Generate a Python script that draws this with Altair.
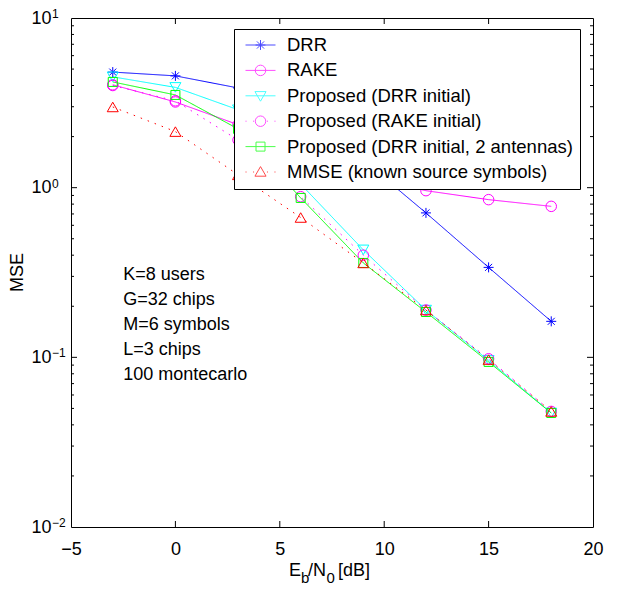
import altair as alt
import pandas as pd

# ---------------- data ----------------
snr = [-3, 0, 3, 6, 9, 12, 15, 18]
drr = [4.8, 4.56, 3.87, 2.6, 1.45, 0.71, 0.339, 0.163]
rake = [4.04, 3.2, 2.35, 1.6, 1.16, 0.96, 0.85, 0.776]
prop_drr = [4.5, 3.9, 2.88, 1.05, 0.43, 0.19, 0.096, 0.047]
prop_rake = [4.0, 3.25, 1.91, 0.885, 0.40, 0.19, 0.098, 0.048]
prop_drr_2ant = [4.2, 3.52, 2.22, 0.87, 0.36, 0.185, 0.094, 0.047]
mmse = [2.99, 2.14, 1.19, 0.667, 0.36, 0.19, 0.097, 0.048]

series_names = [
    "DRR",
    "RAKE",
    "Proposed (DRR initial)",
    "Proposed (RAKE initial)",
    "Proposed (DRR initial, 2 antennas)",
    "MMSE (known source symbols)",
]
series_values = [drr, rake, prop_drr, prop_rake, prop_drr_2ant, mmse]

x_tick_labels = [-5, 0, 5, 10, 15, 20]
x_inner_ticks = [0, 5, 10, 15]
y_decades = [0.01, 0.1, 1, 10]
y_exponents = ["\u22122", "\u22121", "0", "1"]
y_major_inner = [0.1, 1]
y_minor = [m * d for d in [0.01, 0.1, 1] for m in range(2, 10)]

annotation_lines = ["K=8 users", "G=32 chips", "M=6 symbols", "L=3 chips", "100 montecarlo"]

# ---------------- styles ----------------
FONT = "Liberation Sans"
W, H = 522, 509
colors = ["#0000ff", "#ff00ff", "#00ffff", "#ff00ff", "#00ff00", "#ff0000"]
dashes = [[1, 0], [1, 0], [1, 0], [1.5, 6], [1, 0], [1.5, 6]]
asterisk = "M-1,0L1,0M0,-1L0,1M-0.7,-0.7L0.7,0.7M-0.7,0.7L0.7,-0.7"
point_shapes = [asterisk, "circle", "triangle-down", "circle", "square", "triangle-up"]
point_sizes = [100, 110, 121, 110, 81, 121]

LINE = "M-1,0L1,0"
DOTS = "M-1,0L-0.93,0M-0.5,0L-0.43,0M0.43,0L0.5,0M0.93,0L1,0"
def circ(r):
    return f"M{r},0A{r},{r} 0 1,1 {-r},0A{r},{r} 0 1,1 {r},0Z"
leg_ast = "M-0.33,0L0.33,0M0,-0.33L0,0.33M-0.24,-0.24L0.24,0.24M-0.24,0.24L0.24,-0.24"
leg_tri_down = "M-0.37,-0.28L0.37,-0.28L0,0.36Z"
leg_tri_up = "M-0.37,0.28L0.37,0.28L0,-0.36Z"
leg_square = "M-0.3,-0.3L0.3,-0.3L0.3,0.3L-0.3,0.3Z"
legend_shapes = [
    LINE + leg_ast,
    LINE + circ(0.35),
    LINE + leg_tri_down,
    DOTS + circ(0.35),
    LINE + leg_square,
    DOTS + leg_tri_up,
]

rows = []
for name, vals in zip(series_names, series_values):
    for x, v in zip(snr, vals):
        rows.append({"snr": x, "mse": v, "series": name})
df = pd.DataFrame(rows)

x_scale = alt.Scale(domain=[-5, 20], nice=False, zero=False)
y_scale = alt.Scale(type="log", domain=[0.01, 10], nice=False)

ax_x = alt.Axis(values=x_tick_labels, ticks=False, tickSize=0,
                domain=False, grid=False, labelPadding=13, labelFontSize=18,
                labelFont=FONT, labelColor="black", title=None,
                labelFlush=False, labelOverlap=False)
ax_y = alt.Axis(values=y_decades, labelExpr="'10'", ticks=False,
                tickSize=0, domain=False, grid=False, labelAlign="left",
                labelBaseline="middle", labelPadding=40, labelFontSize=18,
                labelFont=FONT, labelColor="black", labelFlush=False,
                labelOverlap=False, title="MSE", titleFont=FONT, titleFontSize=18,
                titleFontWeight="normal", titleColor="black", titleX=-54,
                titleY=254, titleAngle=270, titleAlign="center",
                titleBaseline="middle")

def X(field):
    return alt.X(field, scale=x_scale, axis=ax_x)

def Y(field):
    return alt.Y(field, scale=y_scale, axis=ax_y)

base = alt.Chart(df)

series_layers = []
for name, col, dash in zip(series_names, colors, dashes):
    series_layers.append(
        base.transform_filter(alt.datum.series == name)
        .mark_line(color=col, strokeDash=dash, strokeWidth=1)
        .encode(x=X("snr:Q"), y=Y("mse:Q"))
    )
for name, col, shp, sz in zip(series_names, colors, point_shapes, point_sizes):
    series_layers.append(
        base.transform_filter(alt.datum.series == name)
        .mark_point(color=col, shape=shp, size=sz, filled=False, strokeWidth=1, opacity=1)
        .encode(x=X("snr:Q"), y=Y("mse:Q"))
    )

leg = alt.Legend(orient="none", legendX=163, legendY=11, title=None, padding=7,
                 strokeColor="black", fillColor="white", labelFontSize=18.5, labelFont=FONT,
                 labelColor="black", clipHeight=18, rowPadding=6.4, symbolOffset=4,
                 labelOffset=11, cornerRadius=0, symbolStrokeWidth=1, symbolSize=900,
                 labelLimit=600, zindex=2)

legend_layer = base.transform_filter("false").mark_point(filled=False, size=900, strokeWidth=1).encode(
    x=X("snr:Q"),
    y=Y("mse:Q"),
    color=alt.Color("series:N", scale=alt.Scale(domain=series_names, range=colors), legend=leg),
    shape=alt.Shape("series:N", scale=alt.Scale(domain=series_names, range=legend_shapes), legend=leg),
)

# inward MATLAB-style ticks (tick marks placed through the scales)
def yticks(values, length, side):
    xc = length / 2 if side == "left" else W - length / 2
    return alt.Chart(pd.DataFrame({"mse": values})).mark_tick(
        color="black", thickness=1, size=length, opacity=1
    ).encode(y=Y("mse:Q"), x=alt.value(xc))

def xticks(values, length, side):
    yc = H - length / 2 if side == "bottom" else length / 2
    return alt.Chart(pd.DataFrame({"snr": values})).mark_tick(
        color="black", thickness=1, size=length, opacity=1
    ).encode(x=X("snr:Q"), y=alt.value(yc))

tick_layers = [
    yticks(y_major_inner, 6, "left"), yticks(y_minor, 3, "left"),
    yticks(y_major_inner, 6, "right"), yticks(y_minor, 3, "right"),
    xticks(x_inner_ticks, 6, "bottom"), xticks(x_inner_ticks, 6, "top"),
]

# exponents of the "10" tick labels
exp_layer = alt.Chart(pd.DataFrame({"mse": y_decades, "e": y_exponents})).mark_text(
    align="left", baseline="middle", fontSize=12, font=FONT, color="black", dy=-4
).encode(y=Y("mse:Q"), x=alt.value(-19), text="e:N")

ann = alt.Chart(pd.DataFrame({"snr": [-2.5], "mse": [0.345], "t": ["\n".join(annotation_lines)]})).mark_text(
    align="left", baseline="top", fontSize=18, font=FONT, color="black",
    lineBreak="\n", lineHeight=25,
).encode(x=X("snr:Q"), y=Y("mse:Q"), text="t:N")

# x-axis title with subscripts: E_b / N_0 [dB]
title_parts = [("E", 218, 558, 18), ("b", 230, 565, 15), ("/N", 237, 558, 18),
               ("0", 255.5, 565, 15), ("[dB]", 267, 558, 18)]
one = pd.DataFrame({"k": [0]})
title_layers = [
    alt.Chart(one).mark_text(text=t, align="left", baseline="alphabetic", fontSize=fs,
                             font=FONT, color="black").encode(x=alt.value(px), y=alt.value(py))
    for (t, px, py, fs) in title_parts
]

chart = alt.layer(*series_layers, legend_layer, exp_layer, ann, *title_layers, *tick_layers).properties(
    width=W, height=H,
    autosize=alt.AutoSizeParams(type="none"),
    padding={"left": 63, "top": 10, "right": 16, "bottom": 62},
    background="white",
).configure_view(stroke="black", strokeWidth=1)

chart.save("out.html", embed_options={"renderer": "svg", "actions": False})
